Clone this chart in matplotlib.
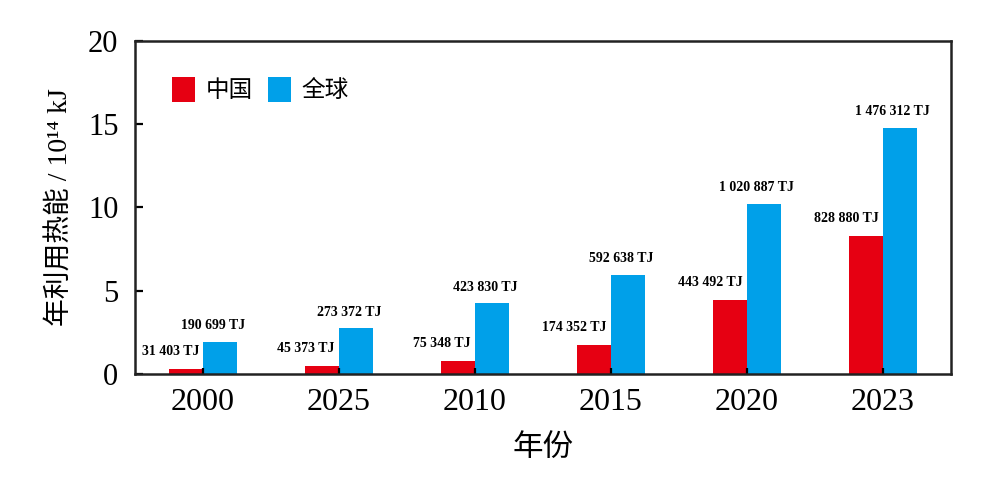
import numpy as np
import matplotlib
matplotlib.use("Agg")
import matplotlib.pyplot as plt

plt.rcParams['font.family'] = ['Liberation Serif', 'Noto Sans CJK SC', 'DejaVu Serif']

years = ['2000', '2025', '2010', '2015', '2020', '2023']
china_tj = [31403, 45373, 75348, 174352, 443492, 828880]
world_tj = [190699, 273372, 423830, 592638, 1020887, 1476312]
series_names = ['中国', '全球']

red = '#E60012'
blue = '#00A0E9'


def fmt_tj(v):
    s = f"{v:,}".replace(',', ' ')
    return s + ' TJ'


# TJ -> 10^14 kJ
china = np.array(china_tj) / 1e5
world = np.array(world_tj) / 1e5

fig = plt.figure(figsize=(10.08, 4.8), dpi=100)
ax = fig.add_axes([0.134, 0.221, 0.809, 0.694])

x = np.arange(len(years))
w = 0.25
ax.bar(x - w / 2, china, w, color=red, label=series_names[0])
ax.bar(x + w / 2, world, w, color=blue, label=series_names[1])

for i in range(len(years)):
    ax.annotate(fmt_tj(china_tj[i]), (x[i] - 0.03, china[i]), xytext=(0, 8),
                textcoords='offset points', ha='right', va='bottom',
                fontsize=10, fontweight='bold')
    ax.annotate(fmt_tj(world_tj[i]), (x[i] + w / 2 - 0.05, world[i]), xytext=(0, 7),
                textcoords='offset points', ha='center', va='bottom',
                fontsize=10, fontweight='bold')

ax.set_xlim(-0.5, 5.5)
ax.set_ylim(0, 20)
ax.set_yticks([0, 5, 10, 15, 20])
ax.set_xticks(x)
ax.set_xticklabels(years)
ax.tick_params(axis='both', direction='in', width=1.6, length=6)
ax.tick_params(axis='y', labelsize=22, pad=12)
ax.tick_params(axis='x', labelsize=23, length=4, pad=10)
for sp in ax.spines.values():
    sp.set_linewidth(1.8)
    sp.set_color('#222222')

ax.set_ylabel('年利用热能 / 10¹⁴ kJ', fontsize=20, labelpad=10)
ax.set_xlabel('年份', fontsize=22, labelpad=12)

leg = ax.legend(loc='upper left', ncol=2, frameon=False,
                handlelength=0.97, handleheight=1.2, handletextpad=0.45,
                columnspacing=0.65, bbox_to_anchor=(0.025, 0.94),
                borderaxespad=0.3,
                prop={'family': ['Noto Sans CJK SC'], 'size': 17})

fig.savefig('out.png', dpi=100)
